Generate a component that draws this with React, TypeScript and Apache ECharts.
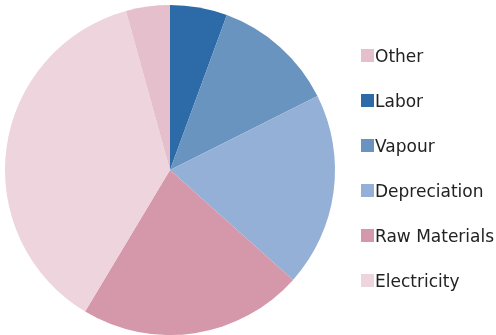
import React, { useEffect, useRef } from "react";
import * as echarts from "echarts";

const categories = ["Labor", "Vapour", "Depreciation", "Raw Materials", "Electricity", "Other"];
const values = [5.6, 12.0, 19.0, 22.0, 37.1, 4.3];
const legendOrder = ["Other", "Labor", "Vapour", "Depreciation", "Raw Materials", "Electricity"];
const colors: Record<string, string> = {
  Labor: "#2d6aa8",
  Vapour: "#6894bf",
  Depreciation: "#94b0d6",
  "Raw Materials": "#d598aa",
  Electricity: "#edd4dd",
  Other: "#e5bfcb",
};

export default function App() {
  const ref = useRef<HTMLDivElement>(null);
  useEffect(() => {
    if (!ref.current) return;
    const chart = echarts.init(ref.current, undefined, { renderer: "svg" });
    chart.setOption({
      animation: false,
      legend: {
        orient: "vertical",
        left: 356,
        top: 42,
        itemGap: 28,
        itemWidth: 13,
        itemHeight: 13,
        icon: "rect",
        data: legendOrder,
        textStyle: { fontFamily: "DejaVu Sans", fontSize: 17, color: "#222", padding: [0, 0, 0, -4] },
      },
      series: [
        {
          type: "pie",
          center: [170, 170],
          radius: [0, 165],
          startAngle: 90,
          clockwise: true,
          label: { show: false },
          labelLine: { show: false },
          data: categories.map((c, i) => ({ name: c, value: values[i], itemStyle: { color: colors[c] } })),
        },
      ],
    });
    return () => chart.dispose();
  }, []);
  return <div ref={ref} style={{ position: "fixed", left: 0, top: 0, width: 496, height: 335 }} />;
}
